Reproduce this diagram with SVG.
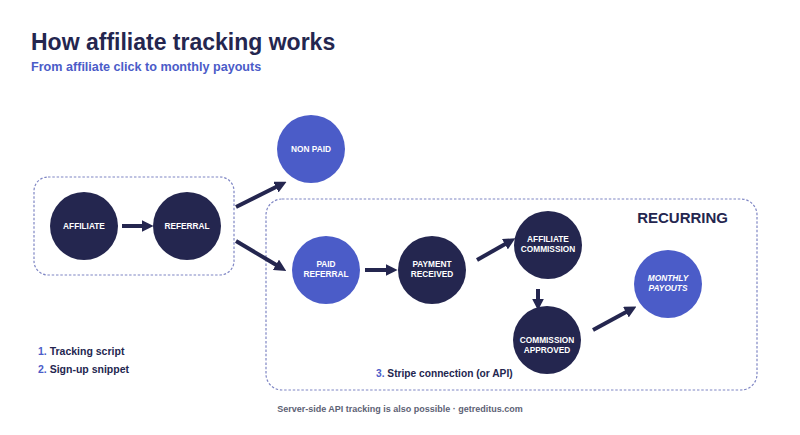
<svg xmlns="http://www.w3.org/2000/svg" width="800" height="435" viewBox="0 0 800 435">
<defs>
<style>
.t{font-family:"Liberation Sans",Arial,sans-serif;font-weight:bold}
.dark{fill:#24264f}
.blue{fill:#4b5cc8}
.lbl{font-family:"Liberation Sans",Arial,sans-serif;font-weight:bold;font-size:8.3px;fill:#ffffff;text-anchor:middle}
.box{fill:none;stroke:#7f86c4;stroke-width:1.2;stroke-dasharray:2.5 1.8}
.conn{stroke:#24264f;stroke-width:4;fill:none;marker-end:url(#ah)}
</style>
<marker id="ah" viewBox="0 0 10 10" refX="2" refY="5" markerWidth="3" markerHeight="3" orient="auto" markerUnits="strokeWidth">
<path d="M0,0 L10,5 L0,10 z" fill="#24264f"/>
</marker>
</defs>
<rect width="800" height="435" fill="#ffffff"/>
<text class="t" x="31" y="50" font-size="23" fill="#24264f">How affiliate tracking works</text>
<text class="t" x="31" y="71" font-size="12.6" fill="#4b5cc8">From affiliate click to monthly payouts</text>

<rect class="box" x="34" y="177" width="200" height="98" rx="14"/>
<rect class="box" x="266" y="199" width="491" height="191" rx="16"/>
<text class="t" x="728" y="223" font-size="15" fill="#24264f" text-anchor="end">RECURRING</text>

<g id="connectors">
<line class="conn" x1="122" y1="226" x2="144" y2="226"/>
<line class="conn" x1="236" y1="207" x2="278" y2="186"/>
<line class="conn" x1="236" y1="241" x2="278" y2="266"/>
<line class="conn" x1="365" y1="270" x2="388" y2="270"/>
<line class="conn" x1="477" y1="260" x2="507" y2="243"/>
<line class="conn" x1="538" y1="289" x2="538" y2="301"/>
<line class="conn" x1="593" y1="330" x2="628" y2="311"/>
</g>

<g id="affiliate"><circle class="dark" cx="84" cy="226" r="34"/><text class="lbl" x="84" y="229">AFFILIATE</text></g>
<g id="referral"><circle class="dark" cx="187" cy="226" r="34"/><text class="lbl" x="187" y="229">REFERRAL</text></g>
<g id="nonpaid"><circle class="blue" cx="311" cy="149" r="34"/><text class="lbl" x="311" y="152">NON PAID</text></g>
<g id="paidreferral"><circle class="blue" cx="326" cy="270" r="34"/><text class="lbl" x="326" y="267">PAID</text><text class="lbl" x="326" y="277">REFERRAL</text></g>
<g id="paymentreceived"><circle class="dark" cx="432" cy="270" r="34"/><text class="lbl" x="432" y="267">PAYMENT</text><text class="lbl" x="432" y="277">RECEIVED</text></g>
<g id="affiliatecommission"><circle class="dark" cx="548" cy="245" r="34"/><text class="lbl" x="548" y="242">AFFILIATE</text><text class="lbl" x="548" y="252">COMMISSION</text></g>
<g id="commissionapproved"><circle class="dark" cx="547" cy="340" r="34"/><text class="lbl" x="547" y="343">COMMISSION</text><text class="lbl" x="547" y="353">APPROVED</text></g>
<g id="monthlypayouts"><circle class="blue" cx="668" cy="284" r="34"/><text class="lbl" x="668" y="281" font-style="italic">MONTHLY</text><text class="lbl" x="668" y="291" font-style="italic">PAYOUTS</text></g>

<text class="t" x="38" y="355" font-size="10.5" fill="#24264f"><tspan fill="#4b5cc8">1.</tspan> Tracking script</text>
<text class="t" x="38" y="373" font-size="10.5" fill="#24264f"><tspan fill="#4b5cc8">2.</tspan> Sign-up snippet</text>
<text class="t" x="376" y="377" font-size="10.2" fill="#24264f"><tspan fill="#4b5cc8">3.</tspan> Stripe connection (or API)</text>
<text class="t" x="400" y="412" font-size="9" fill="#5d6275" text-anchor="middle">Server-side API tracking is also possible · getreditus.com</text>
</svg>
